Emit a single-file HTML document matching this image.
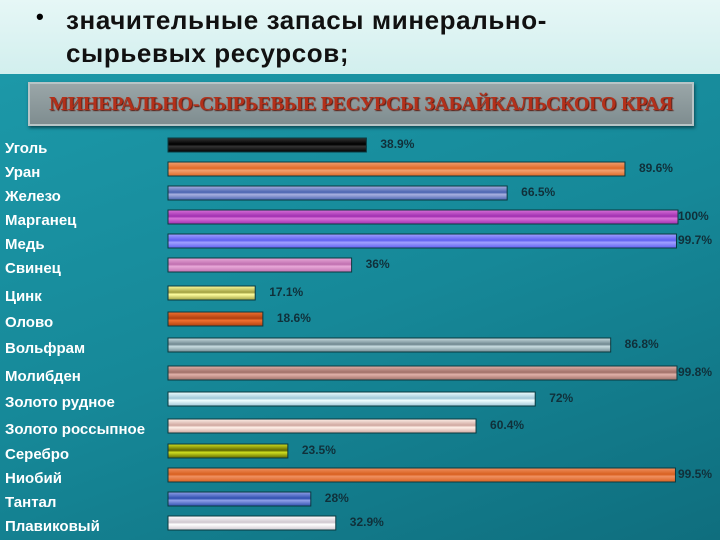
<!DOCTYPE html>
<html><head><meta charset="utf-8"><style>
body{margin:0;width:720px;height:540px;overflow:hidden;font-family:"Liberation Sans",sans-serif}
#hdr{position:absolute;left:0;top:0;width:720px;height:74px;background:linear-gradient(#e6f7f6,#d2efee)}
#hdr div{position:absolute;left:66px;font-size:26px;font-weight:bold;color:#111;letter-spacing:0.6px}
#main{position:absolute;left:0;top:74px;width:720px;height:466px;background:linear-gradient(160deg,#1c98a8 0%,#168898 50%,#0f6e7e 100%)}
#tbox{position:absolute;left:28px;top:82px;width:662px;height:40px;background:linear-gradient(#9aa6a8,#7f8d90);border:2px solid #b8c4c6;box-shadow:1px 2px 3px #0a4a55;text-align:center;line-height:40px;font-family:"Liberation Serif",serif;font-weight:bold;font-size:20px;letter-spacing:-0.3px;color:#b3301a;text-shadow:1px 1px 1px #5a1a10;white-space:nowrap}
</style></head><body>
<div id="hdr">
<span style="position:absolute;left:36px;top:4px;font-size:22px;font-weight:bold">•</span>
<div style="top:5px">значительные запасы минерально-</div>
<div style="top:38px">сырьевых ресурсов;</div>
</div>
<div id="main"></div>
<div id="tbox">МИНЕРАЛЬНО-СЫРЬЕВЫЕ РЕСУРСЫ ЗАБАЙКАЛЬСКОГО КРАЯ</div>
<svg id="chart" width="720" height="540" style="position:absolute;left:0;top:0"></svg>
<script>
const categories=["Уголь","Уран","Железо","Марганец","Медь","Свинец","Цинк","Олово","Вольфрам","Молибден","Золото рудное","Золото россыпное","Серебро","Ниобий","Тантал","Плавиковый"];
const values=[38.9,89.6,66.5,100,99.7,36,17.1,18.6,86.8,99.8,72,60.4,23.5,99.5,28,32.9];
const valueLabels=["38.9%","89.6%","66.5%","100%","99.7%","36%","17.1%","18.6%","86.8%","99.8%","72%","60.4%","23.5%","99.5%","28%","32.9%"];
const colors=[["#333","#000"],["#f0a070","#e06a28"],["#a8b0e0","#4a64b0"],["#d870d8","#a030b0"],["#a0a0ff","#6060f0"],["#e8a8d8","#c070b0"],["#ffffa0","#a0a040"],["#f07030","#b04010"],["#c8dce0","#708890"],["#e0b0a8","#a07068"],["#f0ffff","#a0c8d8"],["#fff0e8","#d0a8a0"],["#d0e020","#606800"],["#f09060","#d86020"],["#90a0e8","#3050b0"],["#ffffff","#d0c8d0"]];
const rowY=[145,169,193,217,241,265,293,319,345,373,399,426,451,475,499,523];
const x0=168,scale=5.1;
const xs=v=>x0+v*scale;
const svg=document.getElementById('chart');
const NS="http://www.w3.org/2000/svg";
let defs=document.createElementNS(NS,'defs');svg.appendChild(defs);
categories.forEach((c,i)=>{
 const g=document.createElementNS(NS,'linearGradient');g.id='g'+i;g.setAttribute('x1',0);g.setAttribute('y1',0);g.setAttribute('x2',0);g.setAttribute('y2',1);
 [[0,colors[i][0]],[0.45,colors[i][1]],[0.6,colors[i][0]],[1,colors[i][1]]].forEach(s=>{const st=document.createElementNS(NS,'stop');st.setAttribute('offset',s[0]);st.setAttribute('stop-color',s[1]);g.appendChild(st);});
 defs.appendChild(g);
 const y=rowY[i];
 const t=document.createElementNS(NS,'text');
 
 
 t.setAttribute('x',5);t.setAttribute('y',y+8);t.setAttribute('fill','#fff');t.setAttribute('font-weight','bold');t.setAttribute('font-size','15');t.setAttribute('font-family','Liberation Sans, sans-serif');t.textContent=c;svg.appendChild(t);
 const r=document.createElementNS(NS,'rect');
 
 
 r.setAttribute('x',x0);r.setAttribute('y',y-7);r.setAttribute('width',xs(values[i])-x0);r.setAttribute('height',14);r.setAttribute('fill','url(#g'+i+')');r.setAttribute('stroke','#0a3a40');r.setAttribute('stroke-width','1');svg.appendChild(r);
 const v=document.createElementNS(NS,'text');
 
 
 v.setAttribute('x',Math.min(xs(values[i])+14,678));v.setAttribute('y',y+3);v.setAttribute('fill','#10303a');v.setAttribute('font-weight','bold');v.setAttribute('font-size','12');v.setAttribute('font-family','Liberation Sans, sans-serif');v.textContent=valueLabels[i];svg.appendChild(v);
});
</script>
</body></html>
